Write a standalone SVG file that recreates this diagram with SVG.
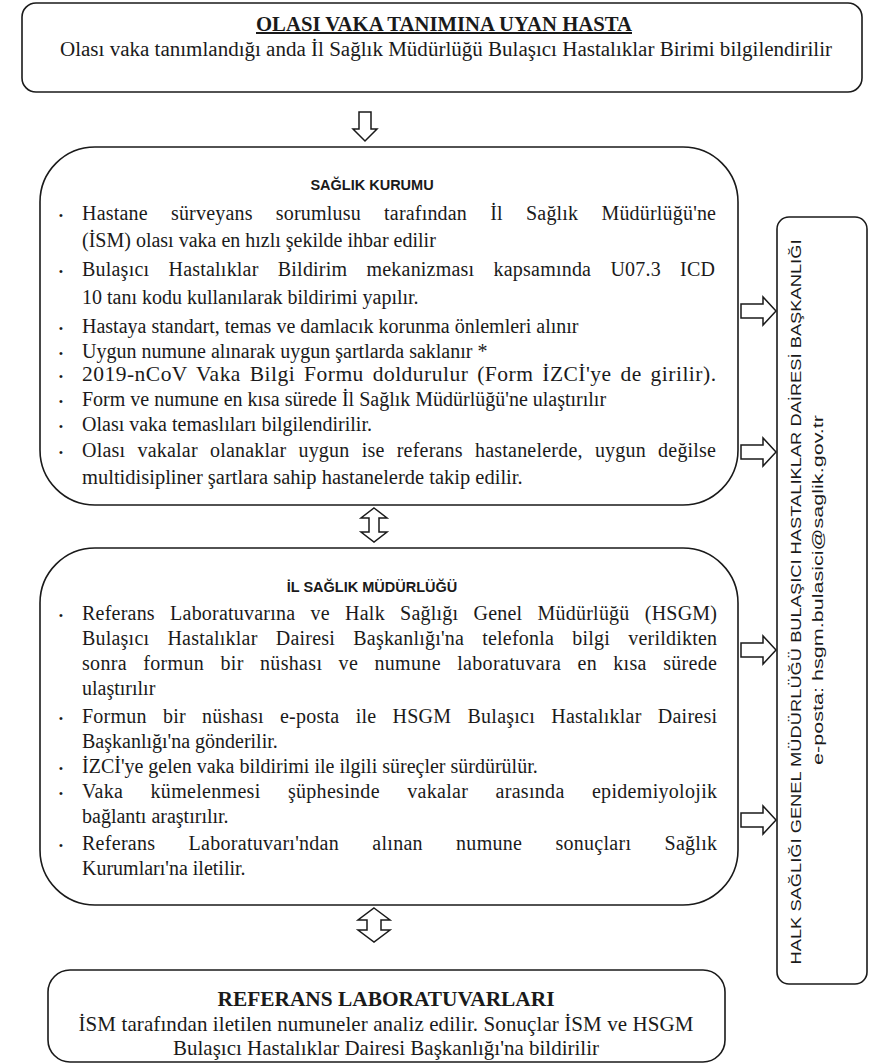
<svg xmlns="http://www.w3.org/2000/svg" width="869" height="1064" viewBox="0 0 869 1064">
<style>
.box{fill:#fff;stroke:#1a1a1a;stroke-width:1.6}
.arr{fill:#fff;stroke:#1a1a1a;stroke-width:1.5;stroke-linejoin:miter}
.t{font-family:"Liberation Serif","Times New Roman",serif;fill:#1a1a1a}
.b{font-size:20px}
.h{font-family:"Liberation Sans",Arial,sans-serif;font-weight:bold;font-size:14.5px;fill:#1a1a1a}
.bul{font-family:"Liberation Sans",Arial,sans-serif;font-size:11px;fill:#1a1a1a}
.v{font-family:"Liberation Sans",Arial,sans-serif;fill:#1a1a1a}
</style>
<rect width="869" height="1064" fill="#fff"/>

<g id="connectors">
<path class="arr" d="M359,112 L371,112 L371,129 L377,129 L365,141 L353,129 L359,129 Z"/>
<path class="arr" d="M374,508 L387,518 L379,518 L379,532 L387,532 L374,542 L361,532 L369,532 L369,518 L361,518 Z"/>
<path class="arr" d="M374,908 L390,920 L381,920 L381,930 L390,930 L374,942 L358,930 L367,930 L367,920 L358,920 Z"/>
<path class="arr" d="M741,304 L763,304 L763,297 L776,311 L763,325 L763,318 L741,318 Z"/>
<path class="arr" d="M741,445 L763,445 L763,438 L776,452 L763,466 L763,459 L741,459 Z"/>
<path class="arr" d="M741,643 L763,643 L763,636 L776,650 L763,664 L763,657 L741,657 Z"/>
<path class="arr" d="M741,813 L763,813 L763,806 L776,820 L763,834 L763,827 L741,827 Z"/>
</g>

<g id="olasi-vaka">
<rect class="box" x="22" y="3" width="840" height="89" rx="14"/>
<text class="t" x="444" y="31" font-size="20" font-weight="bold" text-anchor="middle" text-decoration="underline" textLength="376" lengthAdjust="spacingAndGlyphs">OLASI VAKA TANIMINA UYAN HASTA</text>
<text class="t" x="446" y="56" font-size="20" text-anchor="middle" textLength="772" lengthAdjust="spacingAndGlyphs">Olası vaka tanımlandığı anda İl Sağlık Müdürlüğü Bulaşıcı Hastalıklar Birimi bilgilendirilir</text>
</g>

<g id="saglik-kurumu">
<rect class="box" x="40" y="147" width="698" height="358" rx="55"/>
<text class="h" x="372" y="190" text-anchor="middle">SAĞLIK KURUMU</text>
<g class="bul">
<text x="59" y="219">•</text><text x="59" y="275">•</text><text x="59" y="332">•</text><text x="59" y="357">•</text><text x="59" y="380">•</text><text x="59" y="405">•</text><text x="59" y="430">•</text><text x="59" y="456">•</text>
</g>
<g class="t b">
<text x="82" y="220" word-spacing="18" textLength="634" lengthAdjust="spacing">Hastane sürveyans sorumlusu tarafından İl Sağlık Müdürlüğü'ne</text>
<text x="82" y="247">(İSM) olası vaka en hızlı şekilde ihbar edilir</text>
<text x="82" y="276" word-spacing="14" textLength="633" lengthAdjust="spacing">Bulaşıcı Hastalıklar Bildirim mekanizması kapsamında U07.3 ICD</text>
<text x="82" y="304">10 tanı kodu kullanılarak bildirimi yapılır.</text>
<text x="82" y="333">Hastaya standart, temas ve damlacık korunma önlemleri alınır</text>
<text x="82" y="358">Uygun numune alınarak uygun şartlarda saklanır *</text>
<text x="82" y="381" font-size="21.5" word-spacing="3" textLength="634" lengthAdjust="spacing">2019-nCoV Vaka Bilgi Formu doldurulur (Form İZCİ'ye de girilir).</text>
<text x="82" y="406">Form ve numune en kısa sürede İl Sağlık Müdürlüğü'ne ulaştırılır</text>
<text x="82" y="431">Olası vaka temaslıları bilgilendirilir.</text>
<text x="82" y="457" word-spacing="7" textLength="634" lengthAdjust="spacing">Olası vakalar olanaklar uygun ise referans hastanelerde, uygun değilse</text>
<text x="82" y="484" font-size="20.5">multidisipliner şartlara sahip hastanelerde takip edilir.</text>
</g>
</g>

<g id="il-saglik-mudurlugu">
<rect class="box" x="40" y="548" width="698" height="357" rx="55"/>
<text class="h" x="372" y="592" text-anchor="middle">İL SAĞLIK MÜDÜRLÜĞÜ</text>
<g class="bul">
<text x="59" y="619">•</text><text x="59" y="722">•</text><text x="59" y="772">•</text><text x="59" y="797">•</text><text x="59" y="849">•</text>
</g>
<g class="t b">
<text x="82" y="620" word-spacing="10" textLength="635" lengthAdjust="spacing">Referans Laboratuvarına ve Halk Sağlığı Genel Müdürlüğü (HSGM)</text>
<text x="82" y="645" word-spacing="13" textLength="635" lengthAdjust="spacing">Bulaşıcı Hastalıklar Dairesi Başkanlığı'na telefonla bilgi verildikten</text>
<text x="82" y="670" word-spacing="11" textLength="635" lengthAdjust="spacing">sonra formun bir nüshası ve numune laboratuvara en kısa sürede</text>
<text x="82" y="695">ulaştırılır</text>
<text x="82" y="723" word-spacing="11" textLength="635" lengthAdjust="spacing">Formun bir nüshası e-posta ile HSGM Bulaşıcı Hastalıklar Dairesi</text>
<text x="82" y="748">Başkanlığı'na gönderilir.</text>
<text x="82" y="773">İZCİ'ye gelen vaka bildirimi ile ilgili süreçler sürdürülür.</text>
<text x="82" y="798" word-spacing="22" textLength="635" lengthAdjust="spacing">Vaka kümelenmesi şüphesinde vakalar arasında epidemiyolojik</text>
<text x="82" y="823">bağlantı araştırılır.</text>
<text x="82" y="850" word-spacing="28" textLength="635" lengthAdjust="spacing">Referans Laboratuvarı'ndan alınan numune sonuçları Sağlık</text>
<text x="82" y="875">Kurumları'na iletilir.</text>
</g>
</g>

<g id="referans-laboratuvarlari">
<rect class="box" x="48" y="970" width="677" height="92" rx="22"/>
<text class="t" x="386" y="1006" font-size="21" font-weight="bold" text-anchor="middle" textLength="337" lengthAdjust="spacingAndGlyphs">REFERANS LABORATUVARLARI</text>
<text class="t" x="386" y="1031" font-size="21" text-anchor="middle" textLength="615" lengthAdjust="spacing">İSM tarafından iletilen numuneler analiz edilir. Sonuçlar İSM ve HSGM</text>
<text class="t" x="386" y="1055" font-size="21" text-anchor="middle">Bulaşıcı Hastalıklar Dairesi Başkanlığı'na bildirilir</text>
</g>

<g id="hsgm">
<rect class="box" x="777" y="217" width="90" height="767" rx="12"/>
<text class="v" transform="translate(801,602) rotate(-90)" font-size="14" text-anchor="middle" textLength="725" lengthAdjust="spacingAndGlyphs">HALK SAĞLIĞI GENEL MÜDÜRLÜĞÜ BULAŞICI HASTALIKLAR DAİRESİ BAŞKANLIĞI</text>
<text class="v" transform="translate(823,590) rotate(-90)" font-size="15" text-anchor="middle" textLength="350" lengthAdjust="spacingAndGlyphs">e-posta: hsgm.bulasici@saglik.gov.tr</text>
</g>
</svg>
